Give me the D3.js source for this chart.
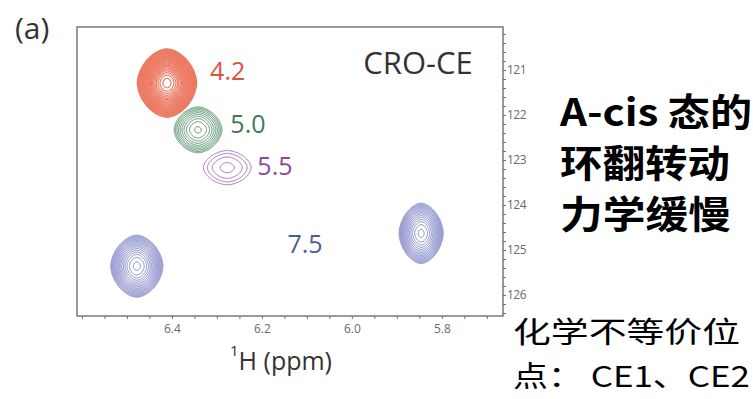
<!DOCTYPE html>
<html>
<head>
<meta charset="utf-8">
<script src="https://cdn.jsdelivr.net/npm/d3@7"></script>
<style>
  html, body { margin: 0; padding: 0; background: #fff; }
  svg { display: block; }
</style>
</head>
<body>
<svg id="chart" width="753" height="399"></svg>
<script>
// Cross-peak data: 1H / 15N chemical shifts of one amide at several pH values
const pHLabels   = ["4.2", "5.0", "5.5", "7.5", "7.5"];
const peakH      = [6.411, 6.342, 6.277, 6.478, 5.846];   // 1H ppm
const peakN      = [121.29, 122.33, 123.17, 125.36, 124.63]; // 15N ppm
const halfWidthH = [0.066, 0.053, 0.053, 0.058, 0.049];
const halfWidthN = [0.76, 0.51, 0.38, 0.69, 0.67];
const levelCount = [28, 10, 4, 17, 16];

// pH annotations (text, 1H ppm, 15N ppm)
const noteText = ["4.2", "5.0", "5.5", "7.5"];
const noteH    = [6.276, 6.231, 6.171, 6.104];
const noteN    = [121.0, 122.18, 123.11, 124.84];

// Axis ticks
const hTickLabels = [6.4, 6.2, 6.0, 5.8];
const nTickLabels = [121, 122, 123, 124, 125, 126];

const peakColors = ["#ec7a63", "#4f8c63", "#a266b8", "#7d82c4", "#7d82c4"];
const noteColors = ["#e0513c", "#3f7a52", "#874c9c", "#4d5b9c"];

const svg = d3.select("#chart");
const L = 77, T = 27, R = 503, B = 316;

const x = d3.scaleLinear().domain([6.611, 5.664]).range([L, R]);
const y = d3.scaleLinear().domain([120.044, 126.467]).range([T, B]);

// Contour grid over the plot area, one cell per pixel
const W = R - L, H = B - T;
const path = d3.geoPath(d3.geoIdentity().translate([L, T]));
const gPeaks = svg.append("g");

peakH.forEach((h, k) => {
  const n = peakN[k], wh = halfWidthH[k], wn = halfWidthN[k];
  const p = 1.75;
  const vals = new Float64Array(W * H);
  for (let j = 0; j < H; j++) {
    const v = Math.abs((y.invert(T + j + 0.5) - n) / wn);
    for (let i = 0; i < W; i++) {
      const u = Math.abs((x.invert(L + i + 0.5) - h) / wh);
      const r = Math.pow(Math.pow(u, p) + Math.pow(v, p), 1 / p);
      vals[j * W + i] = Math.exp(-r * r);
    }
  }
  const m = levelCount[k];
  const rMin = m > 6 ? 0.14 : 0.3;
  const thresholds = d3.range(m).map(i => {
    const r2 = 1 - i * (1 - rMin * rMin) / (m - 1);
    return Math.exp(-r2);
  });
  const cs = d3.contours().size([W, H]).thresholds(thresholds)(vals);
  gPeaks.append("g")
    .selectAll("path")
    .data(cs)
    .join("path")
    .attr("d", path)
    .attr("fill", "none")
    .attr("stroke", peakColors[k])
    .attr("stroke-width", k === 0 ? 1.2 : 0.95)
    .attr("stroke-linejoin", "round");
});

// Frame
svg.append("rect")
  .attr("x", L).attr("y", T).attr("width", W).attr("height", H)
  .attr("fill", "none").attr("stroke", "#707070").attr("stroke-width", 1.4);

// Bottom axis: minor ticks every 0.05 ppm, labels every 0.2 ppm
const hTicks = d3.range(6.60, 5.66, -0.05).map(v => +v.toFixed(2));
const xAxis = d3.axisBottom(x)
  .tickValues(hTicks)
  .tickSize(3)
  .tickFormat(v => hTickLabels.some(t => Math.abs(t - v) < 1e-6) ? d3.format(".1f")(v) : "");
const gx = svg.append("g").attr("transform", `translate(0,${B})`).call(xAxis);
gx.select(".domain").remove();
gx.selectAll(".tick line").attr("stroke", "#707070");
gx.selectAll(".tick text")
  .attr("fill", "#6a6a6a")
  .attr("font-family", "'Open Sans', sans-serif")
  .attr("font-size", 12)
  .attr("dy", "0.9em");

// Right axis: minor ticks every 0.2 ppm, labels at whole ppm
const nTicks = d3.range(120.2, 126.45, 0.2).map(v => +v.toFixed(1));
const yAxis = d3.axisRight(y)
  .tickValues(nTicks)
  .tickSize(3)
  .tickPadding(1)
  .tickFormat(v => nTickLabels.includes(v) ? String(v) : "");
const gy = svg.append("g").attr("transform", `translate(${R},0)`).call(yAxis);
gy.select(".domain").remove();
gy.selectAll(".tick line").attr("stroke", "#707070");
gy.selectAll(".tick text")
  .attr("fill", "#6a6a6a")
  .attr("font-family", "'Open Sans', sans-serif")
  .attr("font-size", 12)
  .attr("letter-spacing", "-0.5px");

// pH annotations
svg.append("g").selectAll("text")
  .data(noteText)
  .join("text")
  .attr("x", (d, i) => x(noteH[i]))
  .attr("y", (d, i) => y(noteN[i]))
  .attr("text-anchor", "middle")
  .attr("dominant-baseline", "central")
  .attr("fill", (d, i) => noteColors[i])
  .attr("font-family", "'Open Sans', sans-serif")
  .attr("font-size", 25)
  .text(d => d);

// Sample name
svg.append("text")
  .attr("x", 418).attr("y", 62)
  .attr("text-anchor", "middle").attr("dominant-baseline", "central")
  .attr("fill", "#333").attr("font-family", "'Open Sans', sans-serif")
  .attr("font-size", 31)
  .text("CRO-CE");

// Panel letter
svg.append("text")
  .attr("x", 15).attr("y", 27)
  .attr("dominant-baseline", "central")
  .attr("fill", "#333").attr("font-family", "'Open Sans', sans-serif")
  .attr("font-size", 30)
  .text("(a)");

// Axis title
const xt = svg.append("text")
  .attr("x", 281).attr("y", 356)
  .attr("text-anchor", "middle").attr("dominant-baseline", "central")
  .attr("fill", "#333").attr("font-family", "'Open Sans', sans-serif")
  .attr("font-size", 25);
xt.append("tspan").attr("font-size", 15).attr("dy", "-0.4em").text("1");
xt.append("tspan").attr("dy", "0.4em").text("H (ppm)");

// Side notes
const side = svg.append("g")
  .attr("font-family", "'Noto Sans CJK SC', sans-serif")
  .attr("fill", "#000");
const boldLines = ["A-cis 态的", "环翻转动", "力学缓慢"];
const boldWidths = [192, 170, 171];
side.selectAll("text.b")
  .data(boldLines)
  .join("text")
  .attr("class", "b")
  .attr("x", 560)
  .attr("y", (d, i) => 126 + i * 51)
  .attr("font-size", 38)
  .attr("font-weight", 700)
  .attr("textLength", (d, i) => boldWidths[i])
  .attr("lengthAdjust", "spacingAndGlyphs")
  .text(d => d);
const plainLines = ["化学不等价位", "点： CE1、CE2"];
const plainWidths = [227, 237];
side.selectAll("text.p")
  .data(plainLines)
  .join("text")
  .attr("class", "p")
  .attr("x", 513)
  .attr("y", (d, i) => 343 + i * 44)
  .attr("font-size", 29)
  .attr("textLength", (d, i) => plainWidths[i])
  .attr("lengthAdjust", "spacingAndGlyphs")
  .text(d => d);
</script>
</body>
</html>
